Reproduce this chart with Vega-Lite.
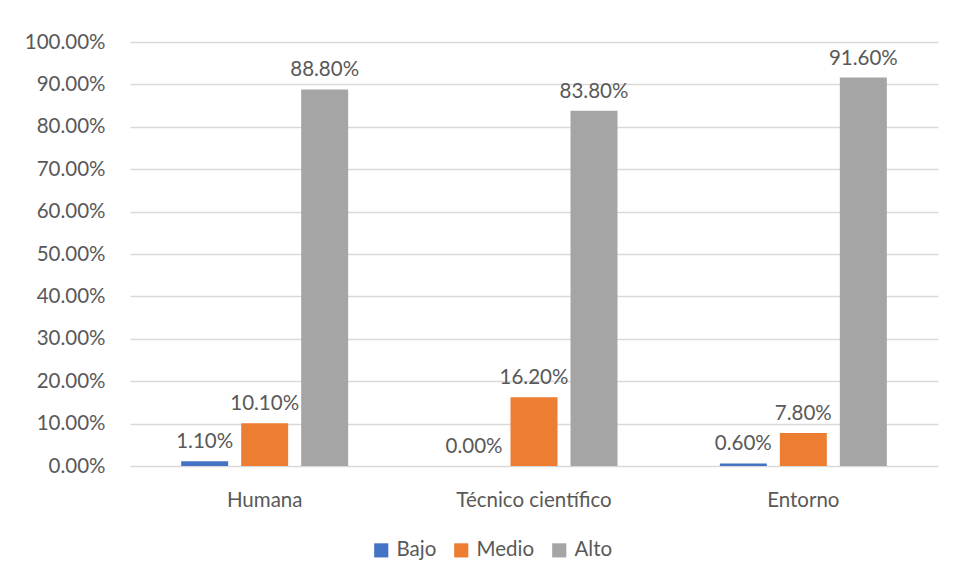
{
  "$schema": "https://vega.github.io/schema/vega-lite/v6.json",
  "autosize": "none",
  "width": 808,
  "height": 424,
  "padding": {"left": 130, "top": 42, "right": 16, "bottom": 115},
  "background": "white",
  "config": {
    "font": "Lato",
    "view": {"stroke": null},
    "axis": {"labelColor": "#595959", "labelFontSize": 20.5, "labelFont": "Lato", "labelFontWeight": "normal"},
    "legend": {"labelColor": "#595959", "labelFontSize": 20.5, "labelFont": "Lato"}
  },
  "data": {
    "values": [
      {"dimension": "Humana", "nivel": "Bajo", "valor": 0.011},
      {"dimension": "Humana", "nivel": "Medio", "valor": 0.101},
      {"dimension": "Humana", "nivel": "Alto", "valor": 0.888},
      {"dimension": "Técnico científico", "nivel": "Bajo", "valor": 0.0},
      {"dimension": "Técnico científico", "nivel": "Medio", "valor": 0.162},
      {"dimension": "Técnico científico", "nivel": "Alto", "valor": 0.838},
      {"dimension": "Entorno", "nivel": "Bajo", "valor": 0.006},
      {"dimension": "Entorno", "nivel": "Medio", "valor": 0.078},
      {"dimension": "Entorno", "nivel": "Alto", "valor": 0.916}
    ]
  },
  "encoding": {
    "x": {
      "field": "dimension", "type": "nominal",
      "sort": ["Humana", "Técnico científico", "Entorno"],
      "scale": {"paddingInner": 0.38, "paddingOuter": 0.19},
      "axis": {"title": null, "labelAngle": 0, "ticks": false, "domain": false, "labelPadding": 24, "grid": false}
    },
    "xOffset": {
      "field": "nivel", "type": "nominal",
      "sort": ["Bajo", "Medio", "Alto"],
      "scale": {"paddingInner": 0.217, "paddingOuter": 0}
    },
    "y": {
      "field": "valor", "type": "quantitative",
      "scale": {"domain": [0, 1], "nice": false},
      "axis": {
        "title": null, "format": ".2%",
        "values": [0, 0.1, 0.2, 0.3, 0.4, 0.5, 0.6, 0.7, 0.8, 0.9, 1.0],
        "ticks": false, "domain": false, "labelPadding": 25,
        "gridColor": "#D9D9D9", "gridWidth": 1.5
      }
    }
  },
  "layer": [
    {
      "mark": {"type": "bar"},
      "encoding": {
        "color": {
          "field": "nivel", "type": "nominal",
          "sort": ["Bajo", "Medio", "Alto"],
          "scale": {"domain": ["Bajo", "Medio", "Alto"], "range": ["#4472C4", "#ED7D31", "#A5A5A5"]},
          "legend": {
            "title": null, "orient": "none", "direction": "horizontal",
            "legendX": 241, "legendY": 498,
            "symbolType": "square", "symbolSize": 200, "symbolStrokeWidth": 0,
            "symbolOpacity": 1, "columnPadding": 14, "labelOffset": 5
          }
        }
      }
    },
    {
      "mark": {"type": "text", "baseline": "bottom", "dy": -9, "fontSize": 20.5, "color": "#595959"},
      "encoding": {
        "text": {"field": "valor", "type": "quantitative", "format": ".2%"}
      }
    }
  ]
}
